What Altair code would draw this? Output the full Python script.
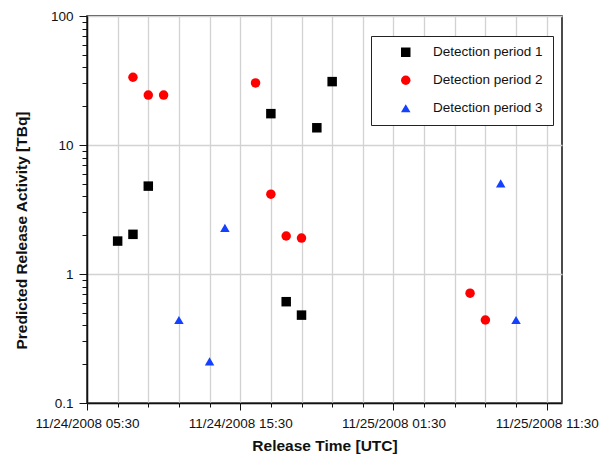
import altair as alt
import pandas as pd

# ---------------- data ----------------
series_names = ["Detection period 1", "Detection period 2", "Detection period 3"]
series_colors = ["#000000", "#ff0000", "#1440ff"]
series_shapes = ["square", "circle", "triangle-up"]
series_sizes = [90, 90, 130]

p1_times = ["11/24/2008 07:30", "11/24/2008 08:30", "11/24/2008 09:30",
            "11/24/2008 17:30", "11/24/2008 18:30", "11/24/2008 19:30",
            "11/24/2008 20:30", "11/24/2008 21:30"]
p1_values = [1.8, 2.03, 4.8, 17.5, 0.61, 0.48, 13.6, 31.0]

p2_times = ["11/24/2008 08:30", "11/24/2008 09:30", "11/24/2008 10:30",
            "11/24/2008 16:30", "11/24/2008 17:30", "11/24/2008 18:30",
            "11/24/2008 19:30", "11/25/2008 06:30", "11/25/2008 07:30"]
p2_values = [33.5, 24.4, 24.4, 30.3, 4.16, 1.97, 1.9, 0.71, 0.44]

p3_times = ["11/24/2008 11:30", "11/24/2008 13:30", "11/24/2008 14:30",
            "11/25/2008 08:30", "11/25/2008 09:30"]
p3_values = [0.44, 0.21, 2.28, 5.05, 0.44]

x_domain_times = ["11/24/2008 05:30", "11/25/2008 12:30"]
x_tick_times = ["11/24/2008 05:30", "11/24/2008 07:30", "11/24/2008 09:30",
                "11/24/2008 11:30", "11/24/2008 13:30", "11/24/2008 15:30",
                "11/24/2008 17:30", "11/24/2008 19:30", "11/24/2008 21:30",
                "11/24/2008 23:30", "11/25/2008 01:30", "11/25/2008 03:30",
                "11/25/2008 05:30", "11/25/2008 07:30", "11/25/2008 09:30",
                "11/25/2008 11:30"]
x_tick_labels = ["11/24/2008 05:30", "11/24/2008 15:30",
                 "11/25/2008 01:30", "11/25/2008 11:30"]

y_domain = [0.1, 100]
y_major = [0.1, 1, 10, 100]
y_major_labels = ["0.1", "1", "10", "100"]
y_minor = [0.2, 0.3, 0.4, 0.5, 0.6, 0.7, 0.8, 0.9,
           2, 3, 4, 5, 6, 7, 8, 9,
           20, 30, 40, 50, 60, 70, 80, 90]

# ---------------- helpers ----------------
T0 = pd.Timestamp("2008-11-24 00:00")


def to_hours(times):
    ts = pd.to_datetime(pd.Series(times), format="%m/%d/%Y %H:%M")
    return list((ts - T0) / pd.Timedelta(hours=1))


rows = []
for name, times, vals in [(series_names[0], p1_times, p1_values),
                          (series_names[1], p2_times, p2_values),
                          (series_names[2], p3_times, p3_values)]:
    for h, v in zip(to_hours(times), vals):
        rows.append({"hours": h, "value": v, "period": name})
df = pd.DataFrame(rows)

x_domain = to_hours(x_domain_times)
x_ticks = to_hours(x_tick_times)
x_major = to_hours(x_tick_labels)

x_major_test = "indexof([" + ",".join(str(v) for v in x_major) + "], datum.value) >= 0"
x_label_expr = "".join(
    f"datum.value == {v} ? '{lab}' : " for v, lab in zip(x_major, x_tick_labels)
) + "''"

y_major_test = "indexof([" + ",".join(str(v) for v in y_major) + "], datum.value) >= 0"
y_label_expr = "".join(
    f"datum.value == {v} ? '{lab}' : " for v, lab in zip(y_major, y_major_labels)
) + "''"
y_ticks = sorted(y_major + y_minor)

FONT = "Liberation Sans"

legend = alt.Legend(
    orient="none", legendX=284, legendY=20, title=None,
    padding=9.5, rowPadding=13, symbolOffset=18.5, labelOffset=20.5,
    strokeColor="#222222", fillColor="white",
    labelFont=FONT, labelFontSize=13.5, labelColor="#111111",
    symbolSize=100, symbolStrokeWidth=0,
)

chart = alt.Chart(df).mark_point(filled=True, opacity=1).encode(
    x=alt.X(
        "hours:Q",
        scale=alt.Scale(domain=x_domain, nice=False, zero=False),
        axis=alt.Axis(
            title="Release Time [UTC]",
            values=x_ticks,
            labelExpr=x_label_expr,
            labelFlush=False,
            labelOverlap=False,
            labelPadding=6.3,
            tickSize={"condition": {"test": x_major_test, "value": 7}, "value": 4},
            titleY=47,
            titleBaseline="alphabetic",
        ),
    ),
    y=alt.Y(
        "value:Q",
        scale=alt.Scale(type="log", domain=y_domain, nice=False),
        axis=alt.Axis(
            title="Predicted Release Activity [TBq]",
            values=y_ticks,
            labelExpr=y_label_expr,
            labelOverlap=False,
            labelPadding=6,
            tickSize={"condition": {"test": y_major_test, "value": 8}, "value": 5},
            gridOpacity={"condition": {"test": y_major_test, "value": 1}, "value": 0},
            titleX=-61,
            titleY=214,
            titleBaseline="alphabetic",
        ),
    ),
    color=alt.Color("period:N",
                    scale=alt.Scale(domain=series_names, range=series_colors),
                    legend=legend),
    shape=alt.Shape("period:N",
                    scale=alt.Scale(domain=series_names, range=series_shapes),
                    legend=legend),
    size=alt.Size("period:N",
                  scale=alt.Scale(domain=series_names, range=series_sizes),
                  legend=None),
).properties(
    width=475, height=387,
    autosize=alt.AutoSizeParams(type="none"),
    padding={"left": 79, "top": 8, "right": 42, "bottom": 53},
).configure_axis(
    labelFont=FONT, labelFontSize=13.5, labelColor="#111111",
    titleFont=FONT, titleFontSize=15.5, titleFontWeight="bold", titleColor="#111111",
    domainColor="#111111", domainWidth=1.5,
    tickColor="#111111", tickWidth=1,
    grid=True, gridColor="#d2d2d2", gridWidth=1.3,
).configure_view(
    stroke="#111111", strokeWidth=1.5,
)

chart.save("out.html", embed_options={"renderer": "svg", "actions": False})
